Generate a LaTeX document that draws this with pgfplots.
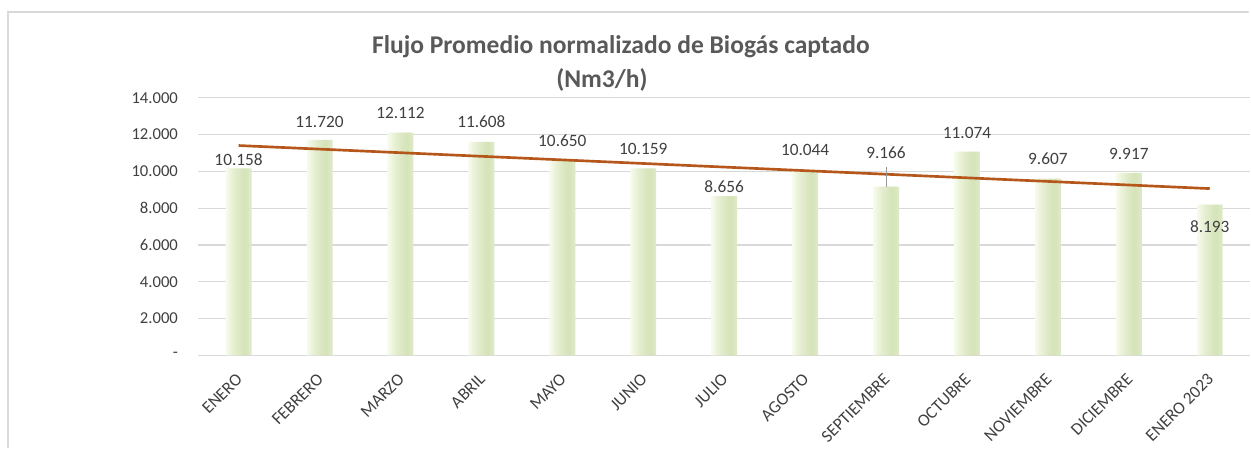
\documentclass[border=0pt]{standalone}
\usepackage{pgfplots}
\pgfplotsset{compat=1.18}
\usepackage{pgfplotstable}
\usepackage{fontspec}
\setmainfont{Carlito}
\definecolor{txt}{HTML}{404040}
\definecolor{ttl}{HTML}{595959}
\definecolor{gridc}{HTML}{D9D9D9}
\definecolor{bA}{HTML}{F7FBEC}
\definecolor{bE}{HTML}{D6E4BA}
\definecolor{bF}{HTML}{DDE9C6}
\colorlet{c0}{bA}
\colorlet{c1}{bA!85!bE}
\colorlet{c2}{bA!70!bE}
\colorlet{c3}{bA!56!bE}
\colorlet{c4}{bA!43!bE}
\colorlet{c5}{bA!31!bE}
\colorlet{c6}{bA!20!bE}
\colorlet{c7}{bA!10!bE}
\colorlet{c8}{bA!3!bE}
\colorlet{c9}{bE}
\colorlet{c10}{bE!55!bF}
\colorlet{c11}{bF}
\definecolor{trend}{HTML}{B5561A}

\pgfplotstableread{
x y dy lab
0 10158 9 10.158
1 11720 18 11.720
2 12112 20 12.112
3 11608 20 11.608
4 10650 19 10.650
5 10159 20 10.159
6 8656 9 8.656
7 10044 21 10.044
8 9166 34 9.166
9 11074 19 11.074
10 9607 20 9.607
11 9917 19 9.917
12 8193 -22 8.193
}\datatable

\begin{document}
\begin{tikzpicture}
\begin{scope}[x=0.75pt,y=0.75pt]
\path[use as bounding box] (0,0) rectangle (1251,449);
\clip (0,0) rectangle (1251,449);
\draw[gridc, line width=1.1pt] (8,0) -- (8,437) -- (1260,437);
\node[font=\fontsize{19.2}{23}\selectfont\bfseries, text=ttl] at (622,402) {Flujo Promedio normalizado de Biogás captado};
\node[font=\fontsize{19.2}{23}\selectfont\bfseries, text=ttl] at (603,369) {(Nm3/h)};
\end{scope}
\begin{axis}[
  at={(148.875pt,69.75pt)}, anchor=south west,
  scale only axis, width=790.5pt, height=193.5pt,
  xmin=-0.5, xmax=12.5, ymin=0, ymax=14000,
  scaled y ticks=false,
  separate axis lines,
  axis x line*=bottom, axis y line*=left,
  y axis line style={draw=none},
  x axis line style={gridc, line width=1.2pt, -},
  major tick length=0pt,
  ymajorgrids, grid style={gridc, line width=0.8pt},
  ytick={0,2000,4000,6000,8000,10000,12000,14000},
  yticklabels={-\hspace{2pt},2.000,4.000,6.000,8.000,10.000,12.000,14.000},
  xtick={0,1,2,3,4,5,6,7,8,9,10,11,12},
  xticklabels={ENERO,FEBRERO,MARZO,ABRIL,MAYO,JUNIO,JULIO,AGOSTO,SEPTIEMBRE,OCTUBRE,NOVIEMBRE,DICIEMBRE,ENERO 2023},
  yticklabel style={font=\fontsize{12.5}{15}\selectfont, text=txt, anchor=east, inner sep=0pt, xshift=-15pt},
  xticklabel style={font=\fontsize{13}{15}\selectfont, text=txt, anchor=east, inner sep=0pt, xshift=0.7pt, yshift=-15.75pt, rotate=45},
  clip=false,
  strip/.style={ybar, draw=none, forget plot, bar width=2pt},
]
\addplot[strip, fill=c0, bar width=1.8pt, bar shift=-8.85pt] table[x=x, y=y] {\datatable};
\addplot[strip, fill=c1, bar shift=-7.3125pt] table[x=x, y=y] {\datatable};
\addplot[strip, fill=c2, bar shift=-5.6875pt] table[x=x, y=y] {\datatable};
\addplot[strip, fill=c3, bar shift=-4.0625pt] table[x=x, y=y] {\datatable};
\addplot[strip, fill=c4, bar shift=-2.4375pt] table[x=x, y=y] {\datatable};
\addplot[strip, fill=c5, bar shift=-0.8125pt] table[x=x, y=y] {\datatable};
\addplot[strip, fill=c6, bar shift=0.8125pt] table[x=x, y=y] {\datatable};
\addplot[strip, fill=c7, bar shift=2.4375pt] table[x=x, y=y] {\datatable};
\addplot[strip, fill=c8, bar shift=4.0625pt] table[x=x, y=y] {\datatable};
\addplot[strip, fill=c9, bar shift=5.6875pt] table[x=x, y=y] {\datatable};
\addplot[strip, fill=c10, bar shift=7.3125pt] table[x=x, y=y] {\datatable};
\addplot[strip, fill=c11, bar width=1.7pt, bar shift=8.9pt] table[x=x, y=y] {\datatable};
\addplot[only marks, mark=none, forget plot,
  point meta=explicit symbolic,
  visualization depends on={\thisrow{dy} \as \dy},
  nodes near coords,
  every node near coord/.append style={anchor=center, yshift=\dy*0.75pt, font=\fontsize{13}{15}\selectfont, text=txt, inner sep=0pt},
] table[x=x, y=y, meta=lab] {\datatable};
\addplot[trend, line width=2pt] coordinates {(0,11406) (12,9065)};
\draw[gray!80, line width=0.75pt] (axis cs:8,9166) -- (axis cs:8,10250);
\end{axis}
\end{tikzpicture}
\end{document}
